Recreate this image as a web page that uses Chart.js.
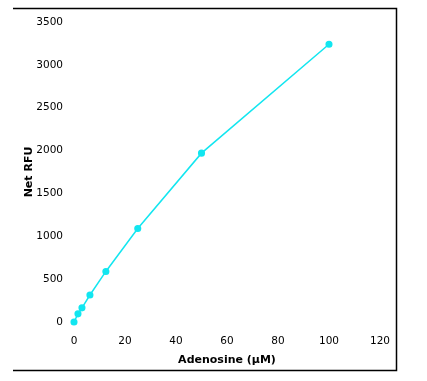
<!DOCTYPE html>
<html>
<head>
<meta charset="utf-8">
<script src="https://cdn.jsdelivr.net/npm/chart.js@4/dist/chart.umd.min.js"></script>
<style>
html,body{margin:0;padding:0;background:#fff;}
#c{display:block;}
</style>
</head>
<body>
<canvas id="c" width="427" height="381"></canvas>
<script>
const concentrations = [0, 1.5625, 3.125, 6.25, 12.5, 25, 50, 100];
const netRFU = [0, 95, 165, 315, 590, 1090, 1970, 3240];
const xTitle = 'Adenosine (\u00B5M)';
const yTitle = 'Net RFU';

const framePlugin = {
  id: 'frame',
  beforeDraw(chart) {
    const ctx = chart.ctx;
    ctx.save();
    ctx.fillStyle = '#fff';
    ctx.fillRect(0, 0, chart.width, chart.height);
    ctx.strokeStyle = '#000';
    ctx.lineWidth = 1.5;
    ctx.beginPath();
    ctx.moveTo(13, 8.5);
    ctx.lineTo(396.5, 8.5);
    ctx.lineTo(396.5, 370.5);
    ctx.lineTo(13, 370.5);
    ctx.stroke();
    ctx.restore();
  }
};

const tickFont = {family: 'DejaVu Sans', size: 10.5};
const titleFont = {family: 'DejaVu Sans', size: 11, weight: 'bold'};
const plain = v => String(v);

new Chart(document.getElementById('c'), {
  type: 'scatter',
  data: {
    datasets: [{
      data: concentrations.map((x, i) => ({x: x, y: netRFU[i]})),
      showLine: true,
      borderColor: '#12E6F0',
      backgroundColor: '#12E6F0',
      borderWidth: 1.5,
      pointRadius: 2.8,
      pointHoverRadius: 2.8,
      tension: 0,
      clip: false
    }]
  },
  plugins: [framePlugin],
  options: {
    responsive: false,
    animation: false,
    events: [],
    layout: {padding: {left: 0, right: 47, top: 22, bottom: 0}},
    plugins: {legend: {display: false}, tooltip: {enabled: false}},
    scales: {
      x: {
        type: 'linear',
        min: 0, max: 120,
        ticks: {stepSize: 20, color: '#000', font: tickFont, padding: 13, callback: plain},
        grid: {display: false, drawTicks: false},
        border: {display: false},
        title: {display: true, text: xTitle, color: '#000', font: titleFont, padding: {top: 0, bottom: 14}},
        afterFit(s) { s.height = 59; }
      },
      y: {
        type: 'linear',
        min: 0, max: 3500,
        ticks: {stepSize: 500, color: '#000', font: tickFont, padding: 11, callback: plain},
        grid: {display: false, drawTicks: false},
        border: {display: false},
        title: {display: true, text: yTitle, color: '#000', font: titleFont, padding: {top: 23, bottom: 0}},
        afterFit(s) { s.width = 74; }
      }
    }
  }
});
</script>
</body>
</html>
